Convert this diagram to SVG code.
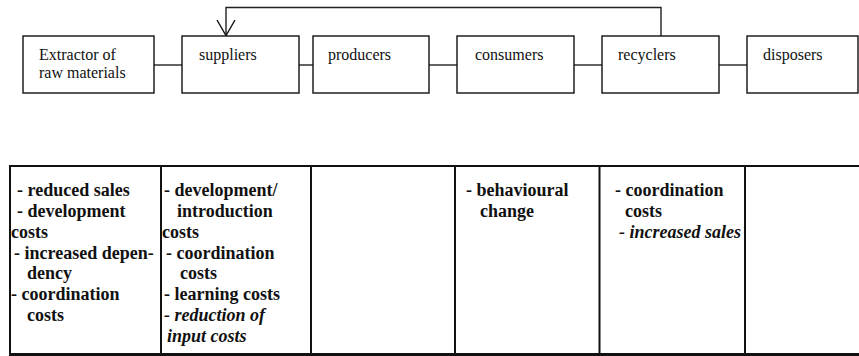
<svg xmlns="http://www.w3.org/2000/svg" width="859" height="356" viewBox="0 0 859 356">
<style>
.box{fill:#fff;stroke:#111;stroke-width:1.4}
.lbl{font-size:16px;fill:#111}
.con{fill:none;stroke:#222;stroke-width:1.4}
.grid{stroke:#111;stroke-width:2}
.t{font-size:18px;font-weight:bold;fill:#111}
.i{font-style:italic}
</style>
<rect width="859" height="356" fill="#fff"/>
<g id="connectors">
<line class="con" x1="154" y1="65" x2="182" y2="65"/>
<line class="con" x1="299" y1="65" x2="313" y2="65"/>
<line class="con" x1="429" y1="65" x2="457" y2="65"/>
<line class="con" x1="574" y1="65" x2="602" y2="65"/>
<line class="con" x1="719" y1="65" x2="747" y2="65"/>
<path class="con" d="M661,36 V7.5 H226 V35.5"/>
<path d="M217,20 L226,35.5 L235,20" fill="none" stroke="#111" stroke-width="1.4"/>
</g>
<g font-family="Liberation Serif, Times New Roman, serif">
<g id="extractor"><rect class="box" x="23" y="36" width="131" height="57"/><text class="lbl" x="39" y="60">Extractor of</text><text class="lbl" x="39" y="78">raw materials</text></g>
<g id="suppliers"><rect class="box" x="182" y="36" width="117" height="57"/><text class="lbl" x="199" y="60">suppliers</text></g>
<g id="producers"><rect class="box" x="313" y="36" width="116" height="57"/><text class="lbl" x="328" y="60">producers</text></g>
<g id="consumers"><rect class="box" x="457" y="36" width="117" height="57"/><text class="lbl" x="475" y="60">consumers</text></g>
<g id="recyclers"><rect class="box" x="602" y="36" width="117" height="57"/><text class="lbl" x="618" y="60">recyclers</text></g>
<g id="disposers"><rect class="box" x="747" y="36" width="111" height="57"/><text class="lbl" x="763" y="60">disposers</text></g>
<g id="table">
<line class="grid" x1="9" y1="166" x2="859" y2="166"/>
<line class="grid" x1="9" y1="354.5" x2="859" y2="354.5" style="stroke-width:3"/>
<line class="grid" x1="10" y1="165" x2="10" y2="356"/>
<line class="grid" x1="161" y1="165" x2="161" y2="356"/>
<line class="grid" x1="311" y1="165" x2="311" y2="356"/>
<line class="grid" x1="455" y1="165" x2="455" y2="356"/>
<line class="grid" x1="599.5" y1="165" x2="599.5" y2="356"/>
<line class="grid" x1="745" y1="165" x2="745" y2="356"/>
</g>
<g id="cell-extractor">
<text class="t" x="17" y="196">- reduced sales</text>
<text class="t" x="17" y="216.9">- development</text>
<text class="t" x="11" y="237.7">costs</text>
<text class="t" x="14" y="258.6">- increased depen-</text>
<text class="t" x="27" y="279.4">dency</text>
<text class="t" x="11" y="300.3">- coordination</text>
<text class="t" x="27" y="321.1">costs</text>
</g>
<g id="cell-suppliers">
<text class="t" x="164" y="196">- development/</text>
<text class="t" x="177" y="216.9">introduction</text>
<text class="t" x="162" y="237.7">costs</text>
<text class="t" x="166" y="258.6">- coordination</text>
<text class="t" x="180" y="279.4">costs</text>
<text class="t" x="164" y="300.3">- learning costs</text>
<text class="t i" x="164" y="321.1">- reduction of</text>
<text class="t i" x="167" y="342">input costs</text>
</g>
<g id="cell-consumers">
<text class="t" x="466" y="196">- behavioural</text>
<text class="t" x="480" y="216.9">change</text>
</g>
<g id="cell-recyclers">
<text class="t" x="615" y="196">- coordination</text>
<text class="t" x="625" y="216.9">costs</text>
<text class="t i" x="619" y="237.7">- increased sales</text>
</g>
</g>
</svg>
